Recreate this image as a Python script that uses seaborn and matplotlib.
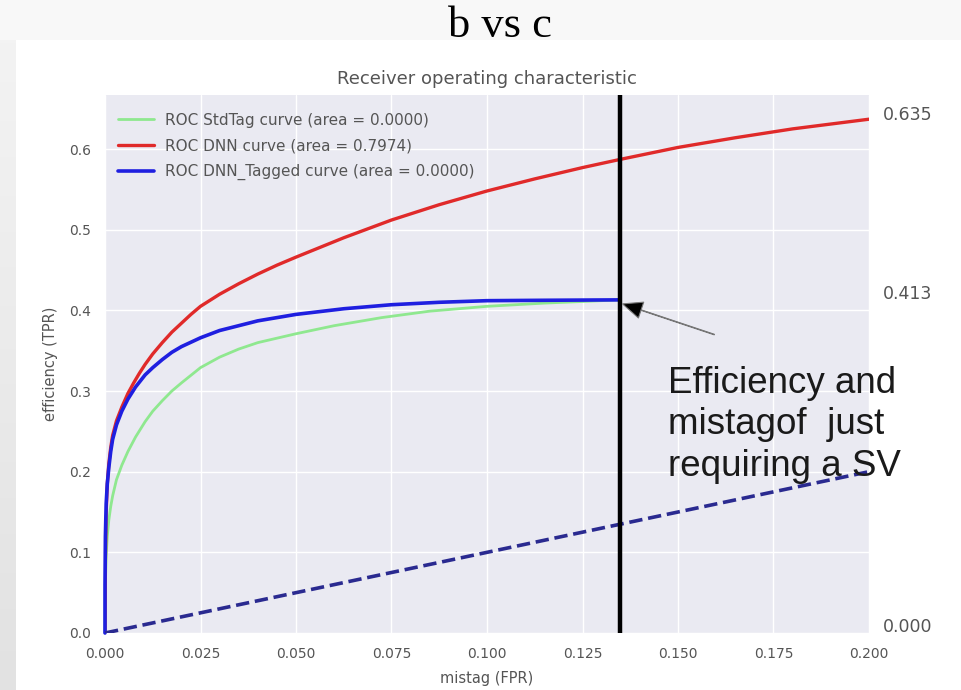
import numpy as np
import pandas as pd
import matplotlib
matplotlib.use("Agg")
import matplotlib.pyplot as plt
import seaborn as sns

# ROC curves: false positive rate (mistag) vs true positive rate (efficiency)
dnn_fpr = [0.0, 0.0001, 0.0003, 0.0006, 0.001, 0.0015, 0.002, 0.003, 0.0044, 0.006,
           0.0075, 0.009, 0.0105, 0.0125, 0.015, 0.0175, 0.02, 0.0225, 0.025, 0.03,
           0.035, 0.04, 0.045, 0.05, 0.0625, 0.075, 0.0875, 0.1, 0.1125, 0.125,
           0.1347, 0.15, 0.165, 0.18, 0.19, 0.2]
dnn_tpr = [0.0, 0.09, 0.15, 0.185, 0.21, 0.23, 0.245, 0.263, 0.28, 0.297,
           0.31, 0.322, 0.333, 0.346, 0.36, 0.373, 0.384, 0.395, 0.405, 0.42,
           0.433, 0.445, 0.456, 0.466, 0.49, 0.512, 0.531, 0.548, 0.563, 0.577,
           0.587, 0.602, 0.614, 0.625, 0.631, 0.637]

tagged_fpr = [0.0, 0.0, 0.0001, 0.0003, 0.0006, 0.001, 0.0015, 0.002, 0.003, 0.0044,
              0.006, 0.008, 0.0105, 0.0125, 0.015, 0.0175, 0.02, 0.025, 0.03, 0.035,
              0.04, 0.05, 0.0625, 0.075, 0.0875, 0.1, 0.115, 0.1347]
tagged_tpr = [0.0, 0.06, 0.12, 0.16, 0.185, 0.205, 0.225, 0.24, 0.258, 0.275,
              0.29, 0.305, 0.32, 0.329, 0.339, 0.348, 0.355, 0.366, 0.375, 0.381,
              0.387, 0.395, 0.402, 0.407, 0.41, 0.412, 0.4125, 0.413]

stdtag_fpr = [0.0, 0.0001, 0.0003, 0.0006, 0.001, 0.0015, 0.002, 0.003, 0.0044, 0.006,
              0.008, 0.0105, 0.0125, 0.015, 0.0175, 0.02, 0.025, 0.03, 0.035, 0.04,
              0.05, 0.06, 0.0724, 0.085, 0.1, 0.115, 0.125, 0.1347]
stdtag_tpr = [0.0, 0.06, 0.095, 0.12, 0.14, 0.157, 0.17, 0.19, 0.208, 0.225,
              0.243, 0.262, 0.275, 0.288, 0.3, 0.31, 0.329, 0.342, 0.352, 0.36,
              0.371, 0.381, 0.391, 0.399, 0.405, 0.409, 0.411, 0.413]

chance_fpr = [0.0, 1.0]
chance_tpr = [0.0, 1.0]

labels = ["ROC StdTag curve (area = 0.0000)",
          "ROC DNN curve (area = 0.7974)",
          "ROC DNN_Tagged curve (area = 0.0000)"]

# working point of the plain secondary-vertex requirement
sv_mistag = 0.1347
sv_eff = 0.413
right_marks = [0.635, 0.413, 0.000]

x_ticks = [0.0, 0.025, 0.05, 0.075, 0.1, 0.125, 0.15, 0.175, 0.2]
y_ticks = [0.0, 0.1, 0.2, 0.3, 0.4, 0.5, 0.6]

sns.set_theme(style="darkgrid")
plt.rcParams["font.family"] = ["DejaVu Sans"]
text_grey = "#555555"

W, H = 962, 690
fig = plt.figure(figsize=(W / 100, H / 100), dpi=100)
fig.patch.set_facecolor("#f8f8f8")

# slide backdrop: white panel with a grey strip on the left
bg = fig.add_axes([0, 0, 1, 1], zorder=-10)
bg.set_xlim(0, W)
bg.set_ylim(H, 0)
bg.axis("off")
bg.add_patch(plt.Rectangle((16, 40), W - 16, H - 40, color="white", lw=0))
grad = np.linspace(0, 1, 200).reshape(-1, 1)
bg.imshow(grad, extent=(0, 16, H, 40), cmap=matplotlib.colors.LinearSegmentedColormap.from_list(
    "strip", ["#f3f3f3", "#e2e2e2"]), aspect="auto", zorder=0)

fig.text(500 / W, 1 - 26 / H, "b vs c", ha="center", va="center",
         fontsize=32, family="Liberation Serif", color="black")

ax = fig.add_axes([105 / W, 1 - 633 / H, (869 - 105) / W, (633 - 95) / H])
for sp in ax.spines.values():
    sp.set_visible(False)

df_std = pd.DataFrame({"fpr": stdtag_fpr, "tpr": stdtag_tpr})
df_dnn = pd.DataFrame({"fpr": dnn_fpr, "tpr": dnn_tpr})
df_tag = pd.DataFrame({"fpr": tagged_fpr, "tpr": tagged_tpr})
df_chance = pd.DataFrame({"fpr": chance_fpr, "tpr": chance_tpr})

sns.lineplot(data=df_std, x="fpr", y="tpr", sort=False, estimator=None, ax=ax,
             color="#8fe88f", lw=2.0, label=labels[0])
ax.lines[-1].set_clip_on(False)
sns.lineplot(data=df_dnn, x="fpr", y="tpr", sort=False, estimator=None, ax=ax,
             color="#e02a2a", lw=2.4, label=labels[1])
sns.lineplot(data=df_tag, x="fpr", y="tpr", sort=False, estimator=None, ax=ax,
             color="#1f1fe0", lw=2.6, label=labels[2])
# the tagged curve hugs the left edge, so let it spill past the clip box
ax.lines[-1].set_clip_on(False)
sns.lineplot(data=df_chance, x="fpr", y="tpr", sort=False, estimator=None, ax=ax,
             color="#2a2a90", lw=2.6, linestyle="--")

ax.axvline(sv_mistag, color="black", lw=3.2, zorder=5)

ax.set_xlim(0, 0.2)
ax.set_ylim(0, 0.667)
ax.set_xticks(x_ticks)
ax.set_xticklabels([f"{t:.3f}" for t in x_ticks])
ax.set_yticks(y_ticks)
ax.set_yticklabels([f"{t:.1f}" for t in y_ticks])
ax.tick_params(labelsize=10, colors=text_grey, pad=4)
ax.set_xlabel("mistag (FPR)", fontsize=10.5, color=text_grey, labelpad=7)
ax.set_ylabel("efficiency (TPR)", fontsize=10.5, color=text_grey, labelpad=8)
ax.set_title("Receiver operating characteristic", fontsize=13, color=text_grey, pad=8)

leg = ax.legend(loc="upper left", bbox_to_anchor=(-0.0065, 1.0), frameon=False,
                fontsize=11, handlelength=2.4, labelspacing=0.7,
                borderaxespad=0.75, handletextpad=0.7)
for t in leg.get_texts():
    t.set_color(text_grey)

for v in right_marks:
    ax.text(0.2037, v + 0.0075, f"{v:.3f}", fontsize=12.5, color=text_grey,
            ha="left", va="center", clip_on=False)

ax.annotate("", xy=(0.1355, sv_eff - 0.005), xytext=(0.1595, 0.37),
            arrowprops=dict(facecolor="black", edgecolor="#777777", width=0.4,
                            headwidth=12, headlength=14, shrink=0.0, lw=0.8),
            zorder=6)
ax.text(0.1475, 0.258, "Efficiency and\nmistagof  just\nrequiring a SV",
        fontsize=26.5, family="Liberation Sans", color="#1a1a1a",
        ha="left", va="center", linespacing=1.23, zorder=7, clip_on=False)

fig.savefig("out.png", dpi=100)
